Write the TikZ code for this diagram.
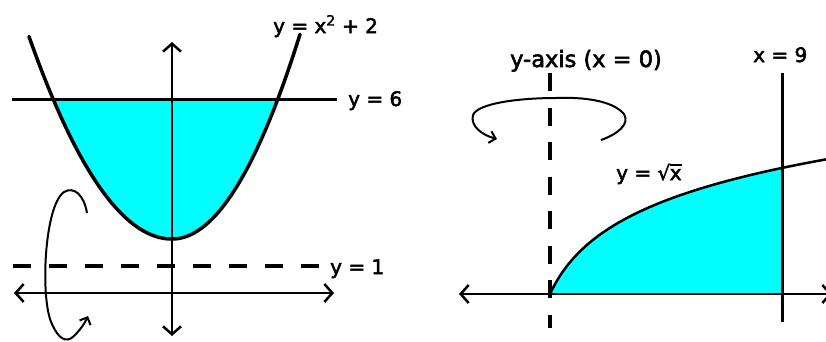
\documentclass[tikz,border=0pt]{standalone}
\usepackage{fontspec}
\setmainfont{DejaVu Sans}
\newfontfamily\lblfont[FakeBold=2.5]{DejaVu Sans}
\usetikzlibrary{arrows.meta}
\definecolor{aqua}{RGB}{0,255,255}
\begin{document}
\begin{tikzpicture}[x=1pt,y=-1pt,
  axisline/.style={line width=2.5pt,line cap=round,{Straight Barb[length=8pt,width=18pt]}-{Straight Barb[length=8pt,width=18pt]}},
  curveline/.style={line width=3.5pt,line cap=round},
  boundline/.style={line width=3pt},
  rotline/.style={line width=2pt,-{Straight Barb[length=6pt,width=12pt]}},
  dashline/.style={line width=4pt},
  lbl/.style={anchor=base west,inner sep=0pt,font=\lblfont\fontsize{20}{24}\selectfont}]
\useasboundingbox (0,0) rectangle (826,341);
% ---------- left panel ----------
\coordinate (vt) at (172,42);
\coordinate (vb) at (172,336);
\coordinate (hl) at (14,293);
\coordinate (hr) at (334,293);
\coordinate (sixl) at (12,99);
\coordinate (sixr) at (337,99);
\coordinate (onel) at (13,266);
\coordinate (oner) at (319,266);
\fill[aqua] plot[domain=53:172,samples=60] (\x,{239-0.0099*(\x-172)*(\x-172)})
  -- plot[domain=172:278,samples=60] (\x,{239-0.0125*(\x-172)*(\x-172)}) -- cycle;
\draw[curveline] plot[domain=29:172,samples=80] (\x,{239-0.0099*(\x-172)*(\x-172)})
  -- plot[domain=172:300,samples=80] (\x,{239-0.0125*(\x-172)*(\x-172)});
\draw[boundline] (sixl) -- (sixr);
\draw[dashline,dash pattern=on 18pt off 18pt] (onel) -- (oner);
\draw[axisline] (vb) -- (vt);
\draw[axisline] (hl) -- (hr);
\coordinate (lrs) at (87,213);
\coordinate (lre) at (88,316);
\draw[rotline] (lrs) .. controls (84,195) and (74,186) .. (64,192)
  .. controls (44,206) and (40,300) .. (52,324)
  .. controls (58,338) and (66,344) .. (74,336)
  .. controls (80,330) and (85,323) .. (lre);
\node[lbl] (lpar) at (273,33) {y = x\textsuperscript{2} + 2};
\node[lbl] (lsix) at (348,106) {y = 6};
\node[lbl] (lone) at (330,274) {y = 1};
% ---------- right panel ----------
\coordinate (al) at (459,294);
\coordinate (ar) at (832,294);
\coordinate (dt) at (550,73);
\coordinate (db) at (550,328);
\coordinate (nt) at (782,73);
\coordinate (nb) at (782,322);
\coordinate (o) at (550,294);
\coordinate (c9) at (782,294);
\fill[aqua] (o) -- plot[domain=550:782,samples=120] (\x,{294-54.1*ln(1+(\x-550)/25)}) -- (c9) -- cycle;
\draw[line width=2.5pt] plot[domain=550:830,samples=140] (\x,{294-54.1*ln(1+(\x-550)/25)});
\draw[axisline] (al) -- (ar);
\draw[boundline] (nt) -- (nb);
\draw[dashline,dash pattern=on 18pt off 16.5pt] (dt) -- (db);
\coordinate (rrs) at (601,140);
\coordinate (rre) at (497,139);
\draw[rotline] (rrs) .. controls (618,134) and (630,124) .. (624,114)
  .. controls (612,100) and (582,97) .. (556,98)
  .. controls (520,98) and (478,103) .. (473,115)
  .. controls (470,126) and (482,135) .. (rre);
\node[lbl,font=\lblfont\fontsize{22.5}{26}\selectfont] (laxis) at (510,67) {y-axis (x = 0)};
\node[lbl] (lnine) at (753,62) {x = 9};
\node[lbl] (lsqrt) at (616,180) {y = √\kern-0.5pt\rlap{\rule[0.72em]{0.62em}{1.8pt}}x};
\end{tikzpicture}
\end{document}
